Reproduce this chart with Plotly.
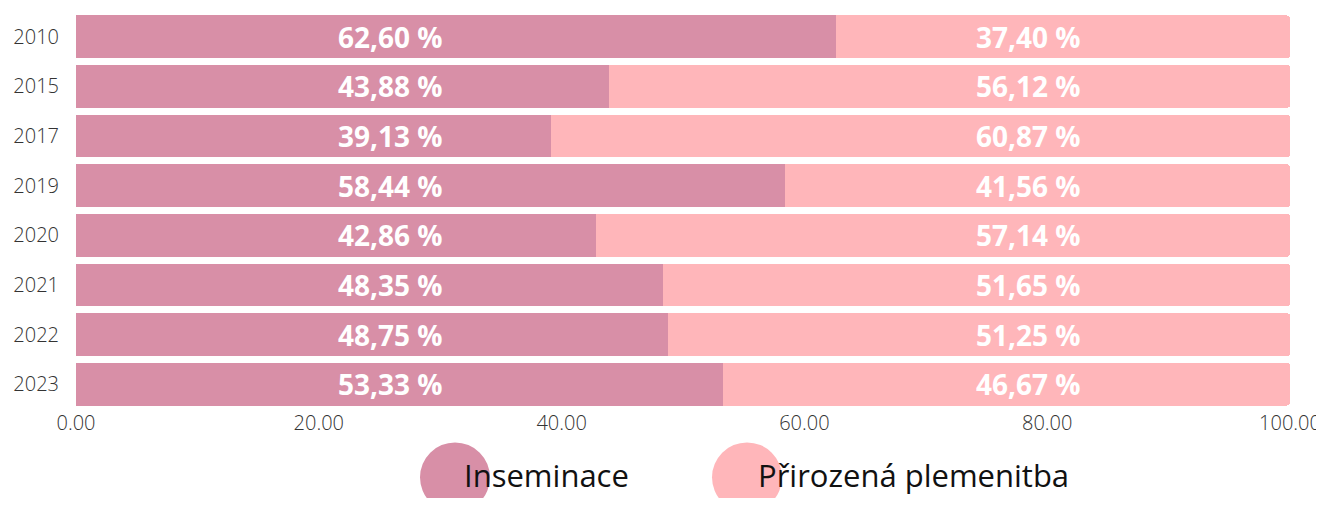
import plotly.graph_objects as go

years = ["2010", "2015", "2017", "2019", "2020", "2021", "2022", "2023"]
inseminace = [62.60, 43.88, 39.13, 58.44, 42.86, 48.35, 48.75, 53.33]
prirozena = [37.40, 56.12, 60.87, 41.56, 57.14, 51.65, 51.25, 46.67]
series_names = ["Inseminace", "Přirozená plemenitba"]
colors = ["#D88FA7", "#FFB6BA"]
x_ticks = [0, 20, 40, 60, 80, 100]

W, H = 1316, 490
L, R, T, B = 68, 34, 3.5, 88.5
PW, PH = W - L - R, H - T - B

def px(x):
    return (x - L) / PW

def py(y):
    return (H - B - y) / PH

fig = go.Figure()
for name, vals, col in zip(series_names, [inseminace, prirozena], colors):
    fig.add_trace(go.Bar(y=years, x=vals, name=name, orientation="h",
                         marker=dict(color=col, line=dict(width=0)),
                         showlegend=False, hoverinfo="x+name"))

def fmt(v):
    return f"{v:.2f}".replace(".", ",") + " %"

label_x = [25.9, 78.45]
for lx, vals in zip(label_x, [inseminace, prirozena]):
    for i, v in enumerate(vals):
        fig.add_annotation(x=lx, y=i, text=fmt(v), showarrow=False,
                           font=dict(family="Open Sans", size=28, color="white", weight="bold"),
                           xanchor="center", yanchor="middle")

# custom legend (figure coords, window offset of 8px removed)
leg_cx = [447, 739]
leg_tx = [454, 748]
for cx, tx, col, name in zip(leg_cx, leg_tx, colors, series_names):
    fig.add_shape(type="circle", xref="paper", yref="paper",
                  x0=px(cx - 35), x1=px(cx + 35),
                  y0=py(505), y1=py(435),
                  fillcolor=col, line=dict(width=0), layer="below")
    fig.add_annotation(xref="paper", yref="paper", x=px(tx),
                       y=py(468), text=name, showarrow=False,
                       xanchor="left", yanchor="middle",
                       font=dict(family="Open Sans", size=31, color="#111111", weight=400))

fig.update_layout(
    barmode="stack", bargap=0.14, barcornerradius=3,
    width=W, height=H,
    margin=dict(l=L, r=R, t=T, b=B, autoexpand=False),
    paper_bgcolor="white", plot_bgcolor="white",
    font=dict(family="Open Sans"),
)
fig.update_xaxes(range=[0, 100], tickvals=x_ticks, tickformat=".2f",
                 showgrid=False, zeroline=False, showline=False, automargin=False,
                 ticklabeloverflow="allow",
                 tickfont=dict(family="Open Sans", size=20, color="#333333", weight=300))
fig.update_yaxes(autorange="reversed", type="category", showgrid=False,
                 zeroline=False, showline=False, ticklabelstandoff=16, automargin=False,
                 tickfont=dict(family="Open Sans", size=20, color="#333333", weight=300))

fig.write_html("out.html")
